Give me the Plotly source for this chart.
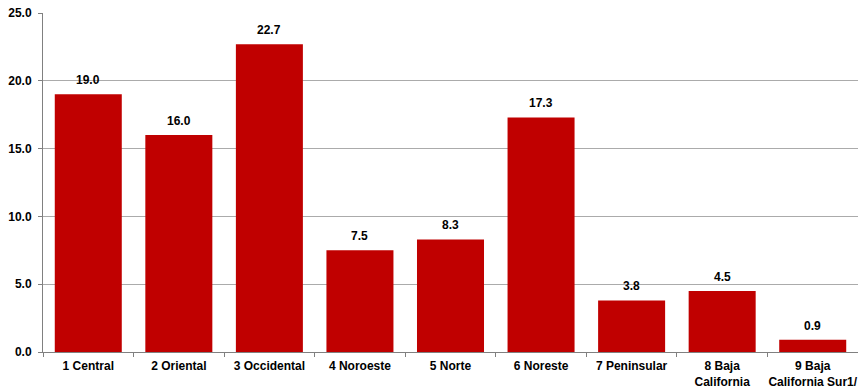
import plotly.graph_objects as go

categories = ["1 Central", "2 Oriental", "3 Occidental", "4 Noroeste", "5 Norte",
              "6 Noreste", "7 Peninsular", "8 Baja<br>California", "9 Baja<br>California Sur1/"]
values = [19.0, 16.0, 22.7, 7.5, 8.3, 17.3, 3.8, 4.5, 0.9]
y_ticks = [0, 5, 10, 15, 20, 25]

font_family = "Liberation Sans, Arial, sans-serif"

fig = go.Figure()
fig.add_trace(go.Bar(
    x=categories, y=values,
    marker=dict(color="#C00000", line=dict(width=0)),
    width=0.74,
))

for c, v in zip(categories, values):
    fig.add_annotation(x=c, y=v, text=f"<b>{v:.1f}</b>", showarrow=False,
                       yanchor="bottom", yshift=5,
                       font=dict(family=font_family, size=12, color="#000000"))

fig.update_layout(
    width=858, height=389,
    margin=dict(l=43, r=0, t=13, b=37, autoexpand=False),
    paper_bgcolor="white", plot_bgcolor="white",
    showlegend=False,
    font=dict(family=font_family, size=12, color="#000000"),
    xaxis=dict(
        type="category",
        tickson="boundaries",
        ticks="outside", ticklen=4, tickcolor="#808080",
        showline=True, linecolor="#808080", linewidth=1,
        showgrid=False,
        tickangle=0, automargin=False,
        ticklabelstandoff=3,
        tickfont=dict(family=font_family, size=12, color="#000000", weight="bold"),
        range=[-0.5, len(categories) - 0.5],
    ),
    yaxis=dict(
        range=[0, 25],
        tickvals=y_ticks,
        ticktext=[f"{t:.1f}" for t in y_ticks],
        ticks="outside", ticklen=4, tickcolor="#808080",
        showline=True, linecolor="#808080", linewidth=1,
        showgrid=True, gridcolor="#ABABAB", gridwidth=1,
        zeroline=False, automargin=False,
        ticklabelstandoff=4,
        tickfont=dict(family=font_family, size=12, color="#000000", weight="bold"),
    ),
)

fig.write_html("out.html")
